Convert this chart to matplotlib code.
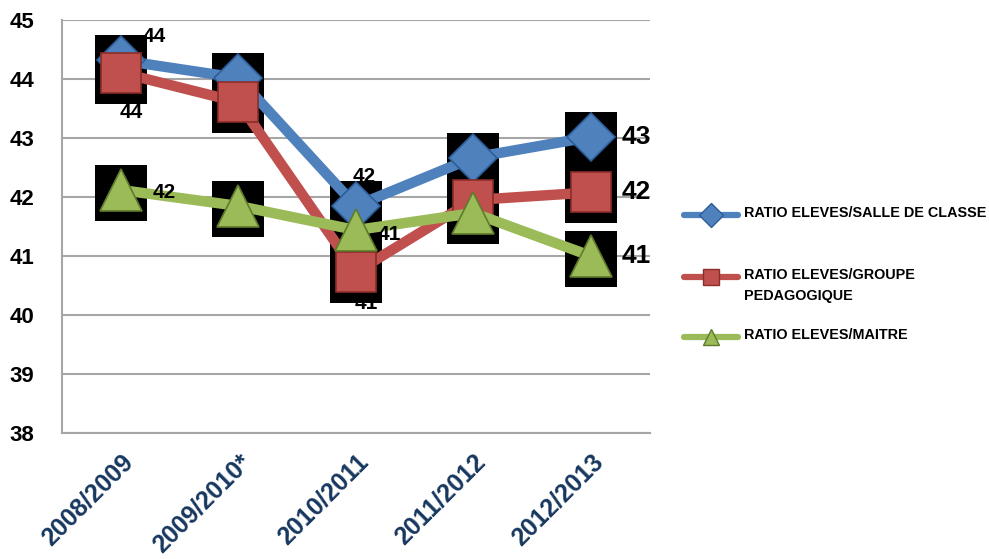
import matplotlib
matplotlib.use("Agg")
import matplotlib.pyplot as plt
from matplotlib.lines import Line2D

plt.rcParams['font.family'] = ['Liberation Sans', 'DejaVu Sans']
plt.rcParams['font.weight'] = 'bold'

years = ["2008/2009", "2009/2010*", "2010/2011", "2011/2012", "2012/2013"]
salle = [44.32, 44.02, 41.85, 42.67, 43.02]
groupe = [44.11, 43.61, 40.73, 41.95, 42.08]
maitre = [42.12, 41.85, 41.44, 41.73, 41.0]
names = ["RATIO ELEVES/SALLE DE CLASSE", "RATIO ELEVES/GROUPE\nPEDAGOGIQUE", "RATIO ELEVES/MAITRE"]

colors = ["#4F81BD", "#C0504D", "#9BBB59"]
edges = ["#2C5D98", "#8C2D2A", "#5E7A2A"]
markers = ["D", "s", "^"]
msizes = [24, 29, 30]

# black shadow box behind each marker, a bit taller than wide, shifted down
box = [(-26, -30.5), (26, -30.5), (26, 24.5), (-26, 24.5), (-26, -30.5)]

W, H = 989, 559
fig = plt.figure(figsize=(W / 100, H / 100), dpi=100)
ax = fig.add_axes([0.0627, 0.2254, 0.5943, 0.7386])
x = list(range(len(years)))

for vals in (salle, groupe, maitre):
    ax.plot(x, vals, ls="none", marker=box, ms=44, color="black", mew=0, zorder=2)

for i, vals in enumerate((salle, groupe, maitre)):
    ax.plot(x, vals, color=colors[i], lw=7.5, zorder=3 + i,
            marker=markers[i], ms=msizes[i], mfc=colors[i], mec=edges[i], mew=1.2)

# data labels
lab = dict(fontsize=15, fontweight="bold", color="black", zorder=10,
           textcoords="offset points")
ax.annotate("44", (0, salle[0]), xytext=(16, 13), **lab)
ax.annotate("44", (0, groupe[0]), xytext=(-1, -33), **lab)
ax.annotate("42", (0, maitre[0]), xytext=(23, -6), **lab)
ax.annotate("42", (2, salle[2]), xytext=(-2, 17), **lab)
ax.annotate("41", (2, maitre[2]), xytext=(16, -7), **lab)
# mostly hidden behind the black box, as in the original
ax.annotate("41", (2, groupe[2]), xytext=(-1, -27), textcoords="offset points",
            zorder=1, fontsize=15, fontweight="bold", color="black")
big = dict(fontsize=19, fontweight="bold", color="black", zorder=10, va="center",
           textcoords="offset points")
ax.annotate("43", (4, salle[4]), xytext=(22, 0), **big)
ax.annotate("42", (4, groupe[4]), xytext=(22, 0), **big)
ax.annotate("41", (4, maitre[4]), xytext=(22, 0), **big)

ax.set_xlim(-0.5, 4.5)
ax.set_ylim(38, 45)
ax.set_yticks(range(38, 46))
ax.yaxis.grid(True, color="#A6A6A6", lw=1.5)
ax.set_axisbelow(True)
ax.set_xticks(x)
ax.set_xticklabels(years, rotation=45, ha="right", rotation_mode="anchor",
                   color="#17375E", fontsize=18, fontweight="bold")
ax.tick_params(axis="y", labelsize=16, length=0, pad=20)
ax.tick_params(axis="x", length=0, pad=12)
for s in ("top", "right"):
    ax.spines[s].set_visible(False)
for s in ("left", "bottom"):
    ax.spines[s].set_color("#A6A6A6")
    ax.spines[s].set_linewidth(1.5)

# legend drawn by hand so the handle lines up with the first text line
leg_y = [215, 277, 337]
for i in range(3):
    yf = 1 - leg_y[i] / H
    fig.add_artist(Line2D([684 / W, 738 / W], [yf, yf], color=colors[i], lw=4.5,
                          solid_capstyle="round", transform=fig.transFigure))
    fig.add_artist(Line2D([711 / W], [yf], marker=markers[i], ms=11 if i else 12,
                          mfc=colors[i], mec=edges[i], ls="none",
                          transform=fig.transFigure))
    fig.text(744 / W, yf + 9 / H, names[i], ha="left", va="top", fontsize=10.4,
             fontweight="bold", linespacing=1.6)

fig.savefig("out.png", dpi=100)
